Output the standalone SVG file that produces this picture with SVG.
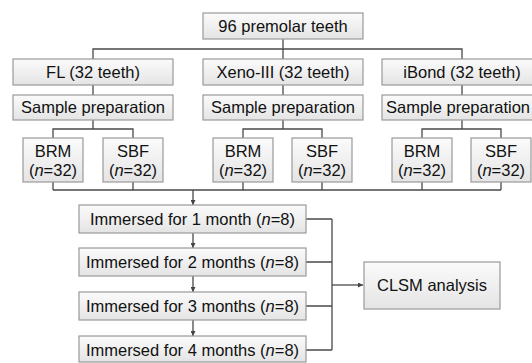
<svg xmlns="http://www.w3.org/2000/svg" width="532" height="363" viewBox="0 0 532 363">
<defs>
<linearGradient id="g" x1="0" y1="0" x2="0" y2="1">
<stop offset="0" stop-color="#fbfbfb"/>
<stop offset="1" stop-color="#e4e4e4"/>
</linearGradient>
<marker id="ah" viewBox="0 0 10 10" refX="10" refY="5" markerWidth="5" markerHeight="5" orient="auto" markerUnits="userSpaceOnUse">
<path d="M0,0 L10,5 L0,10 z" fill="#444"/>
</marker>
</defs>
<style>
.box{fill:url(#g);stroke:#9a9a9a;stroke-width:1.2}
.t{font-family:"Liberation Sans",Arial,sans-serif;font-size:16.5px;fill:#111;text-anchor:middle}
.c{fill:none;stroke:#4a4a4a;stroke-width:1.3}
</style>
<rect width="532" height="363" fill="#fff"/>
<g id="connectors">
<path class="c" d="M283,39 V59 M93,59 V49 H462 V59"/>
<path class="c" d="M93,85 V95 M283,85 V95 M462,85 V95"/>
<path class="c" d="M93,120 V129 M53,138 V129 H133 V138"/>
<path class="c" d="M283,120 V129 M243,138 V129 H322 V138"/>
<path class="c" d="M462,120 V129 M422,138 V129 H501 V138"/>
<path class="c" d="M53,182 V190 M133,182 V190 M243,182 V190 M322,182 V190 M422,182 V190 M501,182 V190 M53,190 H501"/>
<path class="c" d="M193,190 V205" marker-end="url(#ah)"/>
<path class="c" d="M193,233 V248" marker-end="url(#ah)"/>
<path class="c" d="M193,276 V292" marker-end="url(#ah)"/>
<path class="c" d="M193,320 V336" marker-end="url(#ah)"/>
<path class="c" d="M306,219 H332 M306,262 H332 M306,306 H332 M306,350 H332 M332,219 V350"/>
<path class="c" d="M332,285 H363" marker-end="url(#ah)"/>
</g>
<g id="n-root"><rect class="box" x="203" y="13" width="160" height="26"/><text class="t" x="283" y="32">96 premolar teeth</text></g>
<g id="n-fl"><rect class="box" x="13" y="59" width="160" height="26"/><text class="t" x="93" y="78">FL (32 teeth)</text></g>
<g id="n-xeno"><rect class="box" x="203" y="59" width="160" height="26"/><text class="t" x="283" y="78">Xeno-III (32 teeth)</text></g>
<g id="n-ibond"><rect class="box" x="382" y="59" width="160" height="26"/><text class="t" x="462" y="78">iBond (32 teeth)</text></g>
<g id="n-sp1"><rect class="box" x="13" y="95" width="160" height="25"/><text class="t" x="93" y="113">Sample preparation</text></g>
<g id="n-sp2"><rect class="box" x="203" y="95" width="160" height="25"/><text class="t" x="283" y="113">Sample preparation</text></g>
<g id="n-sp3"><rect class="box" x="382" y="95" width="160" height="25"/><text class="t" x="458" y="113">Sample preparation</text></g>
<g id="n-brm1"><rect class="box" x="23" y="138" width="60" height="44"/><text class="t" x="53" y="157">BRM</text><text class="t" x="53" y="176">(<tspan font-style="italic">n</tspan>=32)</text></g>
<g id="n-sbf1"><rect class="box" x="103" y="138" width="60" height="44"/><text class="t" x="133" y="157">SBF</text><text class="t" x="133" y="176">(<tspan font-style="italic">n</tspan>=32)</text></g>
<g id="n-brm2"><rect class="box" x="213" y="138" width="60" height="44"/><text class="t" x="243" y="157">BRM</text><text class="t" x="243" y="176">(<tspan font-style="italic">n</tspan>=32)</text></g>
<g id="n-sbf2"><rect class="box" x="292" y="138" width="60" height="44"/><text class="t" x="322" y="157">SBF</text><text class="t" x="322" y="176">(<tspan font-style="italic">n</tspan>=32)</text></g>
<g id="n-brm3"><rect class="box" x="392" y="138" width="60" height="44"/><text class="t" x="422" y="157">BRM</text><text class="t" x="422" y="176">(<tspan font-style="italic">n</tspan>=32)</text></g>
<g id="n-sbf3"><rect class="box" x="471" y="138" width="60" height="44"/><text class="t" x="501" y="157">SBF</text><text class="t" x="501" y="176">(<tspan font-style="italic">n</tspan>=32)</text></g>
<g id="n-m1"><rect class="box" x="79" y="205" width="227" height="28"/><text class="t" x="192.5" y="225">Immersed for 1 month (<tspan font-style="italic">n</tspan>=8)</text></g>
<g id="n-m2"><rect class="box" x="79" y="248" width="227" height="28"/><text class="t" x="192.5" y="268">Immersed for 2 months (<tspan font-style="italic">n</tspan>=8)</text></g>
<g id="n-m3"><rect class="box" x="79" y="292" width="227" height="28"/><text class="t" x="192.5" y="312">Immersed for 3 months (<tspan font-style="italic">n</tspan>=8)</text></g>
<g id="n-m4"><rect class="box" x="79" y="336" width="227" height="26"/><text class="t" x="192.5" y="356">Immersed for 4 months (<tspan font-style="italic">n</tspan>=8)</text></g>
<g id="n-clsm"><rect class="box" x="364" y="262" width="136" height="47"/><text class="t" x="432" y="291">CLSM analysis</text></g>
</svg>
